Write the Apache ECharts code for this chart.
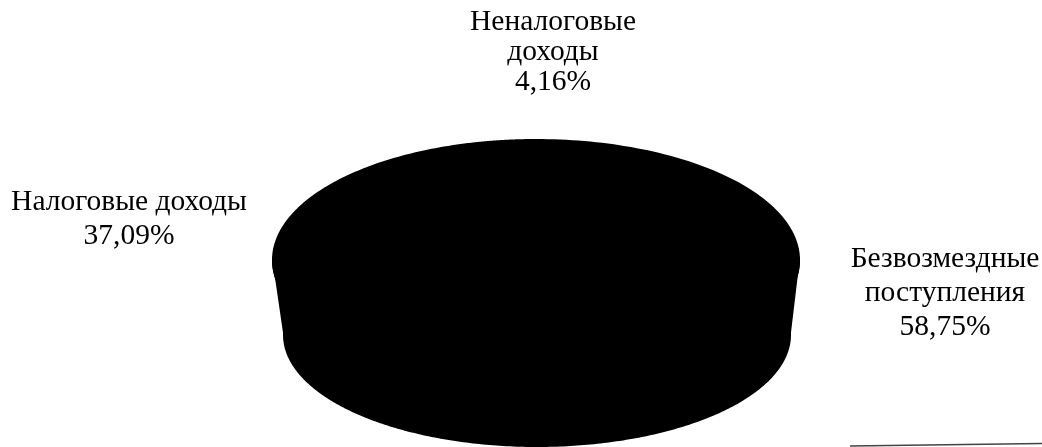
<!DOCTYPE html>
<html>
<head>
<meta charset="utf-8">
<script src="https://cdn.jsdelivr.net/npm/echarts@6/dist/echarts.min.js"></script>
<style>
html,body{margin:0;padding:0;background:#fff;}
#chart{width:1042px;height:447px;}
</style>
</head>
<body>
<div id="chart"></div>
<script>
// ---- data ----
const categories = ['Безвозмездные поступления', 'Налоговые доходы', 'Неналоговые доходы'];
const values = [58.75, 37.09, 4.16];
const labelTexts = ['Безвозмездные\nпоступления\n58,75%', 'Налоговые доходы\n37,09%', 'Неналоговые\nдоходы\n4,16%'];

// ---- layout (3D pie geometry) ----
const TOP = {cx: 536, cy: 260, rx: 263, ry: 120};
const BOT = {cx: 537, cy: 335, rx: 253, ry: 111};
const FONT = '29.5px "Liberation Serif", "Times New Roman", serif';

const total = values.reduce((a, b) => a + b, 0);
const cumBefore = [];
values.reduce((acc, v, i) => { cumBefore[i] = acc; return acc + v; }, 0);

function pt(e, t) { return [e.cx + e.rx * Math.cos(t), e.cy + e.ry * Math.sin(t)]; }

const FILL = {fill: '#000', stroke: '#000', lineWidth: 2, lineJoin: 'round'};

function renderItem(params, api) {
  const v = api.value(0), before = api.value(1);
  const a0 = -Math.PI / 2 + 2 * Math.PI * before / total;
  const a1 = -Math.PI / 2 + 2 * Math.PI * (before + v) / total;
  const N = 160;
  const children = [];
  // side wall: front facing part (angle in [0, PI] mod 2PI)
  for (let k = -1; k <= 1; k++) {
    const lo = Math.max(a0, k * 2 * Math.PI - 0.02), hi = Math.min(a1, k * 2 * Math.PI + Math.PI + 0.02);
    if (hi > lo) {
      const pts = [];
      for (let i = 0; i <= N; i++) pts.push(pt(TOP, lo + (hi - lo) * i / N));
      for (let i = N; i >= 0; i--) pts.push(pt(BOT, lo + (hi - lo) * i / N));
      children.push({type: 'polygon', shape: {points: pts}, style: FILL});
    }
  }
  // top face
  const tp = [[TOP.cx, TOP.cy]];
  for (let i = 0; i <= N; i++) tp.push(pt(TOP, a0 + (a1 - a0) * i / N));
  children.push({type: 'polygon', shape: {points: tp}, style: FILL});
  return {type: 'group', children};
}

const labelPos = [
  {x: 945, y: 242, lh: 34},
  {x: 129, y: 185, lh: 34},
  {x: 553, y: 7, lh: 30}
];

const chart = echarts.init(document.getElementById('chart'));
chart.setOption({
  backgroundColor: '#fff',
  animation: false,
  series: [{
    type: 'custom',
    coordinateSystem: 'none',
    renderItem: renderItem,
    data: values.map((v, i) => ({name: categories[i], value: [v, cumBefore[i]]}))
  }],
  graphic: labelTexts.map((t, i) => ({
    type: 'text',
    x: labelPos[i].x, y: labelPos[i].y,
    style: {text: t, font: FONT, fill: '#000', align: 'center', verticalAlign: 'top', lineHeight: labelPos[i].lh}
  })).concat([{
    type: 'line',
    shape: {x1: 850, y1: 446, x2: 1042, y2: 443.5},
    style: {stroke: '#444', lineWidth: 1.5}
  }])
});
</script>
</body>
</html>
